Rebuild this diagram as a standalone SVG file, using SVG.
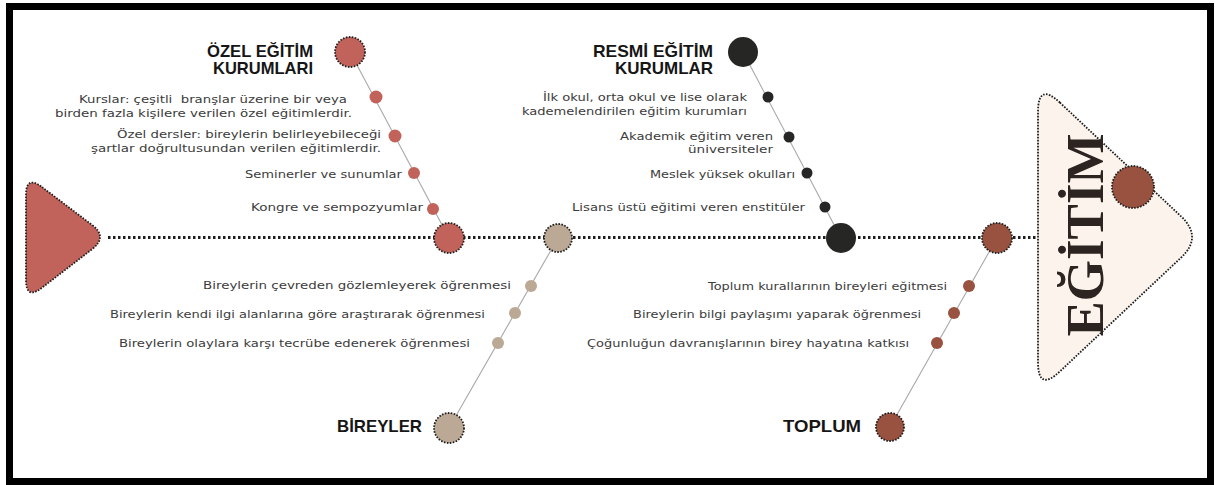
<svg xmlns="http://www.w3.org/2000/svg" width="1215" height="485" viewBox="0 0 1215 485">
  <defs>
    <style>
      .frame { fill: #ffffff; stroke: #000000; stroke-width: 7; }
      .spine { fill: none; stroke: #1e1e1e; stroke-width: 3; stroke-dasharray: 2.5 2.5; }
      .bone { fill: none; stroke: #a8a8a8; stroke-width: 1.1; }
      .ring { stroke: #1e1e1e; stroke-width: 1.8; stroke-dasharray: 1.6 1.4; }
      .red { fill: #c2635b; }
      .beige { fill: #bba995; }
      .black { fill: #262624; }
      .brown { fill: #99523f; }
      .body { font-family: "DejaVu Sans", "Liberation Sans", sans-serif; font-size: 11px; fill: #3c3c3c; text-anchor: end; }
      .title { font-family: "Liberation Sans", Arial, sans-serif; font-size: 17px; font-weight: 700; fill: #161616; text-anchor: end; }
      .big { font-family: "Liberation Serif", "Times New Roman", serif; font-size: 53px; font-weight: 700; fill: #2b2421; text-anchor: middle; }
    </style>
  </defs>

  <rect class="frame" x="9.5" y="6.5" width="1201" height="475"/>

  <g id="connectors">
    <line class="spine" x1="108" y1="237.5" x2="1038" y2="237.5"/>
    <line class="bone" x1="350" y1="52" x2="449" y2="238"/>
    <line class="bone" x1="743" y1="52" x2="841" y2="238"/>
    <line class="bone" x1="558" y1="238" x2="449" y2="428"/>
    <line class="bone" x1="997" y1="238" x2="890" y2="427"/>
  </g>

  <g id="head-left">
    <path class="red ring" d="M42,187.1 L92,224.9 Q108,237 92.1,249.2 L41.9,287.8 Q26,300 26,280 L26,195 Q26,175 42,187.1 Z"/>
  </g>

  <g id="ozel-egitim">
    <circle class="red ring" cx="350" cy="52" r="15"/>
    <text class="title" x="313" y="57" textLength="106" lengthAdjust="spacingAndGlyphs">ÖZEL EĞİTİM</text>
    <text class="title" x="313" y="74" textLength="100" lengthAdjust="spacingAndGlyphs">KURUMLARI</text>
    <circle class="red" cx="376" cy="97" r="6.5"/>
    <circle class="red" cx="395" cy="136" r="6.5"/>
    <circle class="red" cx="414" cy="173" r="6"/>
    <circle class="red" cx="433" cy="209" r="6"/>
    <text class="body" x="347" y="103" textLength="268" lengthAdjust="spacingAndGlyphs" style="white-space:pre">Kurslar: çeşitli  branşlar üzerine bir veya</text>
    <text class="body" x="352" y="117" textLength="297" lengthAdjust="spacingAndGlyphs">birden fazla kişilere verilen özel eğitimlerdir.</text>
    <text class="body" x="381" y="138" textLength="264" lengthAdjust="spacingAndGlyphs">Özel dersler: bireylerin belirleyebileceği</text>
    <text class="body" x="381" y="152" textLength="290" lengthAdjust="spacingAndGlyphs">şartlar doğrultusundan verilen eğitimlerdir.</text>
    <text class="body" x="402" y="178" textLength="157" lengthAdjust="spacingAndGlyphs">Seminerler ve sunumlar</text>
    <text class="body" x="423" y="211" textLength="172" lengthAdjust="spacingAndGlyphs">Kongre ve sempozyumlar</text>
    <circle class="red ring" cx="449" cy="238" r="15"/>
  </g>

  <g id="resmi-egitim">
    <circle class="black" cx="743" cy="52" r="15"/>
    <text class="title" x="713" y="57" textLength="120" lengthAdjust="spacingAndGlyphs">RESMİ EĞİTİM</text>
    <text class="title" x="713" y="74" textLength="98" lengthAdjust="spacingAndGlyphs">KURUMLAR</text>
    <circle class="black" cx="768" cy="97" r="5.5"/>
    <circle class="black" cx="789" cy="137" r="5.5"/>
    <circle class="black" cx="807" cy="173" r="5.5"/>
    <circle class="black" cx="825" cy="207" r="5.5"/>
    <text class="body" x="747" y="101" textLength="204" lengthAdjust="spacingAndGlyphs">İlk okul, orta okul ve lise olarak</text>
    <text class="body" x="747" y="115" textLength="225" lengthAdjust="spacingAndGlyphs">kademelendirilen eğitim kurumları</text>
    <text class="body" x="773" y="140" textLength="153" lengthAdjust="spacingAndGlyphs">Akademik eğitim veren</text>
    <text class="body" x="773" y="153" textLength="85" lengthAdjust="spacingAndGlyphs">üniversiteler</text>
    <text class="body" x="795" y="178" textLength="145" lengthAdjust="spacingAndGlyphs">Meslek yüksek okulları</text>
    <text class="body" x="805" y="211" textLength="233" lengthAdjust="spacingAndGlyphs">Lisans üstü eğitimi veren enstitüler</text>
    <circle class="black" cx="841" cy="238" r="15"/>
  </g>

  <g id="bireyler">
    <circle class="beige ring" cx="558" cy="238" r="14"/>
    <circle class="beige" cx="531" cy="286" r="6"/>
    <circle class="beige" cx="515" cy="313" r="6"/>
    <circle class="beige" cx="498" cy="343" r="6"/>
    <text class="body" x="511" y="289" textLength="308" lengthAdjust="spacingAndGlyphs">Bireylerin çevreden gözlemleyerek öğrenmesi</text>
    <text class="body" x="485" y="318" textLength="375" lengthAdjust="spacingAndGlyphs">Bireylerin kendi ilgi alanlarına göre araştırarak öğrenmesi</text>
    <text class="body" x="470" y="347" textLength="351" lengthAdjust="spacingAndGlyphs">Bireylerin olaylara karşı tecrübe edenerek öğrenmesi</text>
    <circle class="beige ring" cx="449" cy="428" r="15"/>
    <text class="title" x="422" y="432" textLength="85" lengthAdjust="spacingAndGlyphs">BİREYLER</text>
  </g>

  <g id="toplum">
    <circle class="brown ring" cx="997" cy="238" r="15"/>
    <circle class="brown" cx="969" cy="286" r="6"/>
    <circle class="brown" cx="954" cy="313" r="6"/>
    <circle class="brown" cx="937" cy="343" r="6"/>
    <text class="body" x="947" y="290" textLength="239" lengthAdjust="spacingAndGlyphs">Toplum kurallarının bireyleri eğitmesi</text>
    <text class="body" x="921" y="318" textLength="288" lengthAdjust="spacingAndGlyphs">Bireylerin bilgi paylaşımı yaparak öğrenmesi</text>
    <text class="body" x="909" y="347" textLength="322" lengthAdjust="spacingAndGlyphs">Çoğunluğun davranışlarının birey hayatına katkısı</text>
    <circle class="brown ring" cx="890" cy="427" r="14"/>
    <text class="title" x="861" y="432" textLength="78" lengthAdjust="spacingAndGlyphs">TOPLUM</text>
  </g>

  <g id="egitim">
    <path fill="#fcf4ec" class="ring" d="M1059.9,102.6 L1181.1,216.4 Q1203,237 1181.1,257.6 L1059.9,371.4 Q1038,392 1038,362 L1038,112 Q1038,82 1059.9,102.6 Z"/>
    <circle class="brown ring" cx="1133" cy="187" r="21"/>
    <text class="big" transform="translate(1103,235) rotate(-90)" textLength="203" lengthAdjust="spacingAndGlyphs">EĞİTİM</text>
  </g>
</svg>
